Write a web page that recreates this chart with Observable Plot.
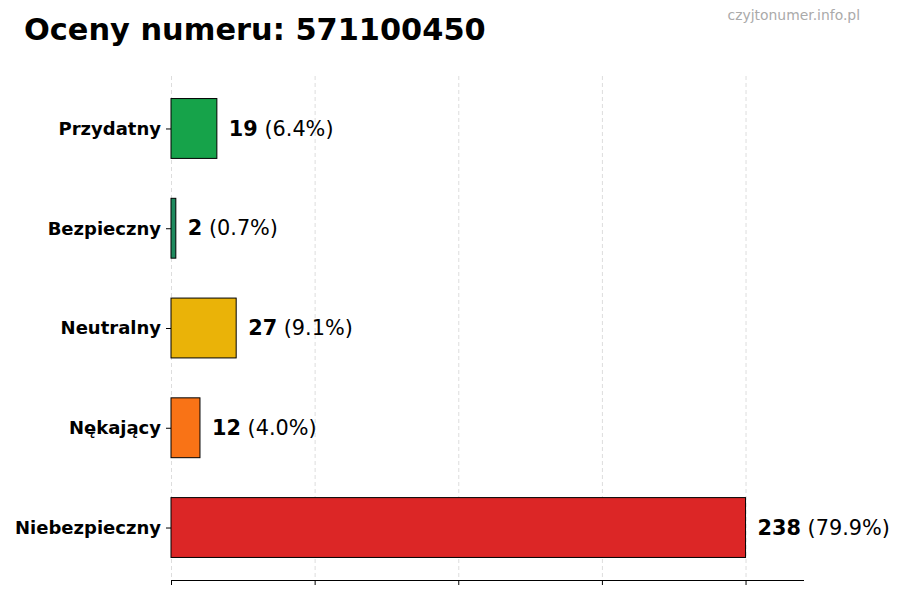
<!DOCTYPE html>
<html>
<head>
<meta charset="utf-8">
<script src="https://cdn.jsdelivr.net/npm/d3@7"></script>
<script src="https://cdn.jsdelivr.net/npm/@observablehq/plot@0.6"></script>
<style>
  html, body { margin: 0; padding: 0; background: #fff; }
  #wrap { width: 900px; height: 600px; position: relative; font-family: "DejaVu Sans", sans-serif; }
  #header { position: relative; width: 900px; height: 60px; }
  #title { position: absolute; left: 24px; top: 15px; font-size: 30.4px; line-height: 30.4px; font-weight: bold; color: #000; white-space: nowrap; }
  #mark { position: absolute; right: 40px; top: 9.3px; font-size: 13.9px; line-height: 13.9px; color: #aaaaaa; white-space: nowrap; }
</style>
</head>
<body>
<div id="wrap">
  <div id="header">
    <div id="title">Oceny numeru: 571100450</div>
    <div id="mark">czyjtonumer.info.pl</div>
  </div>
  <div id="chart"></div>
</div>
<script>
const categories = ["Przydatny", "Bezpieczny", "Neutralny", "Nękający", "Niebezpieczny"];
const counts = [19, 2, 27, 12, 238];
const percents = ["6.4%", "0.7%", "9.1%", "4.0%", "79.9%"];
const colors = ["#16a34a", "#1e8a5e", "#eab308", "#f97316", "#dc2626"];
const xTicks = [0, 59.5, 119, 178.5, 238];
const xMax = 261.8;

const data = categories.map((c, i) => ({category: c, value: counts[i], pct: "(" + percents[i] + ")", color: colors[i]}));

const valFont = 20.8;
const gap = 11.5;

const chart = Plot.plot({
  width: 900,
  height: 540,
  marginLeft: 171,
  marginRight: 97,
  marginTop: 16,
  marginBottom: 20,
  style: {fontFamily: "DejaVu Sans", background: "#fff", overflow: "visible"},
  x: {domain: [0, xMax], axis: null},
  y: {domain: categories, paddingInner: 0.4, paddingOuter: 0.226, round: false, axis: null},
  color: {type: "identity"},
  marks: [
    Plot.gridX(xTicks, {stroke: "#b0b0b0", strokeOpacity: 0.55, strokeDasharray: "4,3", strokeWidth: 0.8}),
    Plot.barX(data, {x: "value", y: "category", fill: "color", stroke: "#000", strokeWidth: 1}),
    Plot.axisY({tickSize: 5, tickPadding: 5.5, fontSize: 18, fontWeight: "bold", fill: "#000", stroke: "#000", label: null}),
    Plot.axisX({ticks: xTicks, tickSize: 5, tickFormat: () => "", label: null, stroke: "#000"}),
    Plot.frame({anchor: "bottom", stroke: "#000", strokeWidth: 1}),
    Plot.text(data, {x: "value", y: "category", text: d => `${d.value} ${d.pct}`, dx: gap, textAnchor: "start", fontSize: valFont, fill: "#000",
      render: (index, scales, values, dims, context, next) => {
        const g = next(index, scales, values, dims, context);
        d3.select(g).selectAll("text").each(function(_, j) {
          const d = data[index[j]];
          const sel = d3.select(this);
          sel.text(null);
          sel.append("tspan").attr("font-weight", "bold").text(String(d.value));
          sel.append("tspan").text(" " + d.pct);
        });
        return g;
      }})
  ]
});
document.getElementById("chart").appendChild(chart);
</script>
</body>
</html>
